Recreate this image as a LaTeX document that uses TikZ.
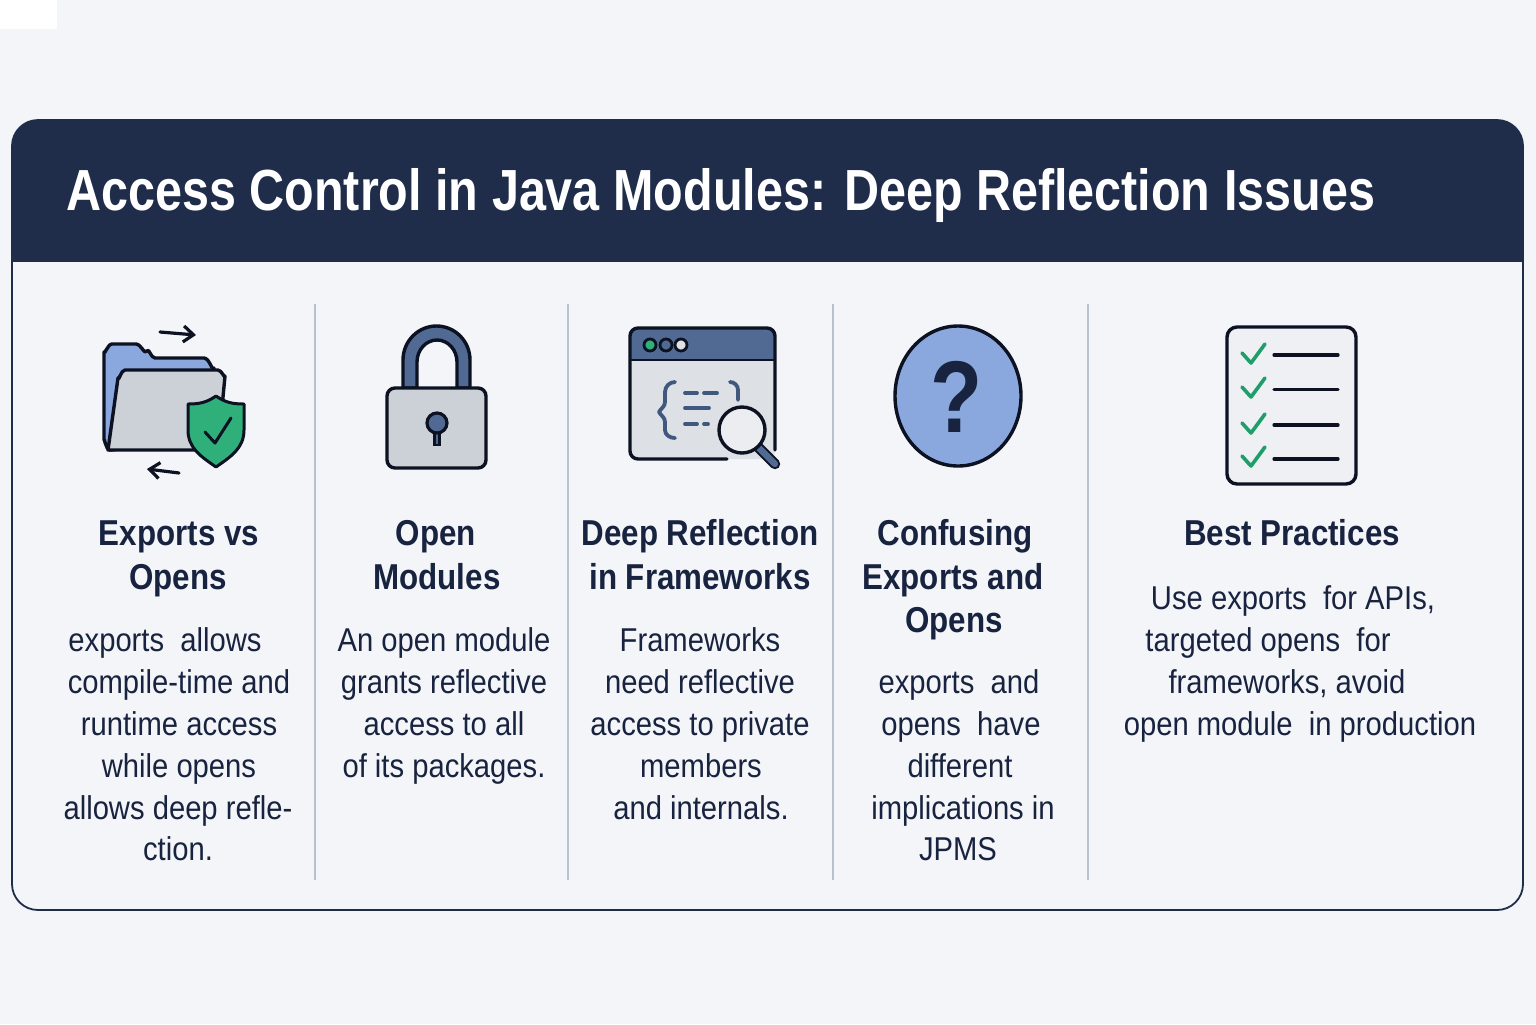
\documentclass[tikz,border=0pt]{standalone}
\usepackage{fontspec}
\setmainfont{Liberation Sans}[FakeStretch=0.885]
\newfontfamily\titlefont{Liberation Sans}[FakeStretch=0.836]
\newfontfamily\headfont{Liberation Sans}[FakeStretch=0.87]
\usetikzlibrary{arrows.meta}
\definecolor{pagebg}{HTML}{F4F5F9}
\definecolor{navy}{HTML}{1F2D4B}
\definecolor{inkc}{HTML}{18233F}
\definecolor{linec}{HTML}{0C1222}
\definecolor{bluec}{HTML}{8AA8DE}
\definecolor{steel}{HTML}{506A94}
\definecolor{grayc}{HTML}{CBD1D6}
\definecolor{lightg}{HTML}{DDE0E5}
\definecolor{greenc}{HTML}{2FB07A}
\definecolor{checkc}{HTML}{1F9E6B}
\definecolor{divc}{HTML}{B9C0CE}
\tikzset{
  x=0.5pt,y=-0.5pt,
  titletxt/.style={anchor=base west,inner sep=0,text=white,font=\titlefont\fontsize{29}{32}\selectfont\bfseries},
  headtxt/.style={anchor=base,inner sep=0,yshift=0.5pt,text=inkc,font=\headfont\fontsize{18}{20}\selectfont\bfseries},
  bodytxt/.style={anchor=base,inner sep=0,yshift=0.5pt,text=inkc,font=\fontsize{16.5}{20}\selectfont},
  icon/.style={draw=linec,line width=1.7pt,line join=round,line cap=round},
  divider/.style={draw=divc,line width=0.55pt},
  codeline/.style={draw=steel!70!navy,line width=1.9pt,line cap=round},
  tick/.style={draw=checkc,line width=1.8pt,line cap=round,line join=round},
  rule/.style={draw=linec,line width=1.6pt,line cap=round},
}
\begin{document}
\begin{tikzpicture}
\useasboundingbox (0,0) rectangle (1536,1024);
\fill[pagebg] (0,0) rectangle (1536,1024);
\fill[white] (0,0) rectangle (57,29);
% panel
\begin{scope}
\clip[rounded corners=13pt] (12,120) rectangle (1523,910);
\fill[navy] (12,120) rectangle (1523,262);
\end{scope}
\draw[navy,line width=0.9pt,rounded corners=13pt] (12,120) rectangle (1523,910);
\node[titletxt] (title) at (66,210) {Access Control in Java Modules: Deep Reflection Issues};
% dividers
\draw[divider] (315,304) -- (315,880);
\draw[divider] (568,304) -- (568,880);
\draw[divider] (833,304) -- (833,880);
\draw[divider] (1088,304) -- (1088,880);
% folder icon
\draw[icon,line width=1.6pt,->,>={Straight Barb[length=5pt,width=8pt]}] (160,332) -- (196,335);
\draw[icon,line width=1.6pt,->,>={Straight Barb[length=5pt,width=8pt]}] (179,473) -- (147,469);
\draw[icon,fill=bluec] (104,440) -- (104,352) to[out=-90,in=180] (112,344) -- (136,344) to[out=0,in=-115] (147,351) to[out=65,in=180] (155,358) -- (204,358) to[out=0,in=-100] (214,368) -- (214,440) -- (110,450) to[out=180,in=90] (104,440) -- cycle;
\draw[icon,fill=grayc] (108,450) -- (118,378) to[out=-80,in=180] (125,370) -- (218,370) to[out=0,in=-90] (225,376) -- (218,450) -- cycle;
\draw[icon,line width=1.5pt,fill=greenc] (216,396) to[out=-35,in=180] (244,404) -- (244,430) to[out=-90,in=35] (216,467) to[out=145,in=-90] (188,430) -- (188,404) to[out=0,in=-145] cycle;
\draw[icon,line width=1.5pt] (205,432) -- (215,443) -- (231,418);
% lock icon
\draw[icon,fill=steel] (403,388) -- (403,360) arc[start angle=180,end angle=360,x radius=33.5,y radius=34] -- (470,388) -- (457,388) -- (457,362) arc[start angle=0,end angle=-180,x radius=20,y radius=22] -- (417,388) -- cycle;
\draw[icon,fill=grayc,rounded corners=4pt] (387,388) rectangle (486,468);
\draw[draw=linec,line width=1.1pt,fill=steel] (434.5,432) -- (434.5,445) -- (439.5,445) -- (439.5,432) -- cycle;
\draw[draw=linec,line width=1.6pt,fill=steel] (437,423) circle[radius=10];
% window icon
\fill[lightg,rounded corners=4pt] (630,328) rectangle (775,459);
\fill[steel,rounded corners=4pt] (630,328) rectangle (775,345);
\fill[steel] (630,340) rectangle (775,360);
\draw[icon,rounded corners=4pt] (727,459) -- (630,459) -- (630,328) -- (775,328) -- (775,450);
\draw[icon,line width=1.3pt] (630,360) -- (775,360);
\draw[draw=linec,line width=1.4pt,fill=greenc] (650,345) circle[radius=6];
\draw[draw=linec,line width=1.4pt,fill=steel] (666,345) circle[radius=6];
\draw[draw=linec,line width=1.4pt,fill=lightg] (681,345) circle[radius=6];
\draw[codeline,line join=round] (675,382) to[out=180,in=90] (665,392) -- (665,402) to[out=-90,in=60] (659,412) to[out=-60,in=90] (665,422) -- (665,430) to[out=-90,in=180] (675,438);
\draw[codeline,line join=round] (730,382) to[out=0,in=90] (738,390) -- (738,400);
\draw[codeline] (685,393) -- (697,393) (704,393) -- (717,393);
\draw[codeline] (685,408) -- (709,408);
\draw[codeline] (685,424) -- (697,424) (704,424) -- (708,424);
\draw[draw=linec,line width=5.2pt,line cap=round] (757,446) -- (775,464);
\draw[draw=steel,line width=3.2pt,line cap=round] (757,446) -- (775,464);
\draw[icon,fill=pagebg!60!lightg] (742,430) circle[radius=23];
% question icon
\draw[icon,fill=bluec] (958,396) ellipse[x radius=63,y radius=70];
\node[anchor=base,inner sep=0,text=inkc,font=\titlefont\fontsize{51}{51}\selectfont\bfseries] (qmark) at (957,432) {?};
% checklist icon
\draw[icon,fill=pagebg!96!gray,rounded corners=5pt] (1227,327) rectangle (1356,484);
\draw[tick] (1242,353) -- (1251,363) -- (1265,344);
\draw[tick] (1242,387) -- (1251,397) -- (1265,378);
\draw[tick] (1242,423) -- (1251,433) -- (1265,414);
\draw[tick] (1242,456) -- (1251,466) -- (1265,447);
\draw[rule] (1274,355) -- (1338,355);
\draw[rule] (1274,389.5) -- (1338,389.5);
\draw[rule] (1274,425) -- (1338,425);
\draw[rule] (1274,459) -- (1338,459);
% column 1
\node[headtxt] (h1a) at (179,546) {Exports vs};
\node[headtxt] (h1b) at (178,590) {Opens};
\node[bodytxt] (b1a) at (165,652) {exports\ \ allows};
\node[bodytxt] (b1b) at (179,694) {compile-time and};
\node[bodytxt] (b1c) at (179,736) {runtime access};
\node[bodytxt] (b1d) at (179,778) {while opens};
\node[bodytxt] (b1e) at (178,820) {allows deep refle-};
\node[bodytxt] (b1f) at (178,861) {ction.};
% column 2
\node[headtxt] (h2a) at (436,546) {Open};
\node[headtxt] (h2b) at (437,590) {Modules};
\node[bodytxt] (b2a) at (444,652) {An open module};
\node[bodytxt] (b2b) at (444,694) {grants reflective};
\node[bodytxt] (b2c) at (444,736) {access to all};
\node[bodytxt] (b2d) at (444,778) {of its packages.};
% column 3
\node[headtxt] (h3a) at (700,546) {Deep Reflection};
\node[headtxt] (h3b) at (700,590) {in Frameworks};
\node[bodytxt] (b3a) at (700,652) {Frameworks};
\node[bodytxt] (b3b) at (700,694) {need reflective};
\node[bodytxt] (b3c) at (700,736) {access to private};
\node[bodytxt] (b3d) at (701,778) {members};
\node[bodytxt] (b3e) at (701,820) {and internals.};
% column 4
\node[headtxt] (h4a) at (955,546) {Confusing};
\node[headtxt] (h4b) at (953,590) {Exports and};
\node[headtxt] (h4c) at (954,633) {Opens};
\node[bodytxt] (b4a) at (959,694) {exports\ \ and};
\node[bodytxt] (b4b) at (961,736) {opens\ \ have};
\node[bodytxt] (b4c) at (960,778) {different};
\node[bodytxt] (b4d) at (963,820) {implications in};
\node[bodytxt] (b4e) at (958,861) {JPMS};
% column 5
\node[headtxt] (h5a) at (1292,546) {Best Practices};
\node[bodytxt] (b5a) at (1293,610) {Use exports\ \ for APIs,};
\node[bodytxt] (b5b) at (1268,652) {targeted opens\ \ for};
\node[bodytxt] (b5c) at (1287,694) {frameworks, avoid};
\node[bodytxt] (b5d) at (1300,736) {open module\ \ in production};
\end{tikzpicture}
\end{document}
